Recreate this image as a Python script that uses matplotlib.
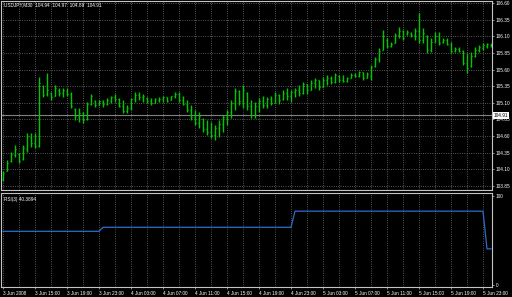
import matplotlib
matplotlib.use('Agg')
import matplotlib.pyplot as plt

# ---------------- data ----------------
bar_open = [103.95, 104.08, 104.22, 104.32, 104.33, 104.25, 104.40, 104.58, 104.50, 104.45,
            105.35, 105.23, 105.25, 105.20, 105.30, 105.25, 105.28, 105.24, 105.00, 104.88,
            104.95, 104.85, 105.08, 105.12, 105.07, 105.12, 105.08, 105.13, 105.18, 105.15,
            105.05, 104.98, 105.02, 105.15, 105.22, 105.18, 105.17, 105.12, 105.10, 105.14,
            105.15, 105.18, 105.14, 105.20, 105.23, 105.14, 105.08, 104.99, 104.88, 104.80,
            104.85, 104.70, 104.66, 104.62, 104.72, 104.78, 104.88, 104.96, 105.10, 105.28,
            105.12, 105.25, 105.05, 104.92, 105.05, 105.12, 105.06, 105.15, 105.10, 105.22,
            105.15, 105.25, 105.20, 105.26, 105.30, 105.25, 105.38, 105.30, 105.40, 105.44,
            105.34, 105.45, 105.48, 105.42, 105.50, 105.45, 105.43, 105.47, 105.52, 105.50,
            105.56, 105.47, 105.50, 105.65, 105.76, 105.90, 106.05, 105.96, 106.00, 106.12,
            106.18, 106.14, 106.14, 106.12, 106.18, 106.05, 106.10, 105.90, 106.02, 106.10,
            106.02, 106.05, 105.99, 105.88, 105.91, 105.88, 105.70, 105.65, 105.80, 105.90,
            105.92, 105.96, 105.97]
bar_high = [104.08, 104.24, 104.36, 104.46, 104.34, 104.46, 104.64, 104.64, 104.64, 105.49,
            105.37, 105.55, 105.26, 105.37, 105.32, 105.32, 105.32, 105.26, 105.02, 105.02,
            104.96, 105.11, 105.24, 105.14, 105.14, 105.14, 105.17, 105.21, 105.24, 105.17,
            105.14, 105.06, 105.17, 105.26, 105.26, 105.24, 105.18, 105.17, 105.17, 105.18,
            105.21, 105.18, 105.21, 105.26, 105.26, 105.21, 105.14, 105.06, 104.99, 104.96,
            104.87, 104.84, 104.81, 104.76, 104.84, 104.91, 104.99, 105.14, 105.32, 105.29,
            105.37, 105.26, 105.14, 105.11, 105.17, 105.21, 105.18, 105.21, 105.26, 105.24,
            105.29, 105.32, 105.29, 105.33, 105.37, 105.41, 105.38, 105.44, 105.47, 105.44,
            105.49, 105.52, 105.50, 105.55, 105.52, 105.52, 105.49, 105.55, 105.55, 105.58,
            105.56, 105.56, 105.67, 105.79, 105.92, 106.19, 106.07, 106.01, 106.15, 106.24,
            106.19, 106.19, 106.16, 106.22, 106.45, 106.22, 106.12, 106.07, 106.16, 106.16,
            106.07, 106.07, 106.01, 105.94, 105.94, 105.89, 105.85, 105.86, 105.94, 105.97,
            106.00, 106.00, 106.00]
bar_low = [103.93, 104.07, 104.21, 104.28, 104.19, 104.24, 104.36, 104.43, 104.42, 104.43,
           105.18, 105.21, 105.14, 105.21, 105.21, 105.18, 105.21, 105.02, 104.84, 104.81,
           104.79, 104.84, 105.06, 105.03, 105.06, 105.03, 105.06, 105.09, 105.11, 105.03,
           104.94, 104.94, 104.99, 105.11, 105.14, 105.11, 105.09, 105.06, 105.09, 105.11,
           105.11, 105.11, 105.14, 105.17, 105.11, 105.06, 104.96, 104.84, 104.76, 104.72,
           104.66, 104.61, 104.57, 104.54, 104.58, 104.66, 104.76, 104.87, 104.99, 105.06,
           105.02, 104.99, 104.87, 104.87, 104.96, 105.02, 105.02, 105.06, 105.09, 105.08,
           105.14, 105.14, 105.11, 105.18, 105.21, 105.23, 105.24, 105.29, 105.32, 105.29,
           105.34, 105.37, 105.38, 105.40, 105.41, 105.41, 105.41, 105.47, 105.49, 105.49,
           105.44, 105.47, 105.44, 105.64, 105.71, 105.89, 105.92, 105.94, 106.00, 106.07,
           106.04, 106.12, 106.09, 106.04, 106.00, 106.00, 105.85, 105.86, 106.01, 105.97,
           106.00, 105.97, 105.85, 105.86, 105.86, 105.67, 105.55, 105.64, 105.79, 105.86,
           105.89, 105.92, 105.94]
bar_close = [104.05, 104.20, 104.33, 104.40, 104.22, 104.42, 104.60, 104.50, 104.45, 105.40,
             105.22, 105.30, 105.18, 105.33, 105.25, 105.30, 105.24, 105.05, 104.90, 104.95,
             104.84, 105.08, 105.20, 105.06, 105.12, 105.08, 105.14, 105.18, 105.15, 105.05,
             104.98, 105.02, 105.15, 105.22, 105.18, 105.20, 105.12, 105.10, 105.15, 105.16,
             105.19, 105.13, 105.20, 105.23, 105.14, 105.08, 104.99, 104.88, 104.80, 104.90,
             104.70, 104.66, 104.62, 104.72, 104.78, 104.88, 104.96, 105.10, 105.28, 105.12,
             105.30, 105.05, 104.92, 105.05, 105.12, 105.06, 105.15, 105.10, 105.22, 105.14,
             105.25, 105.20, 105.26, 105.30, 105.25, 105.38, 105.30, 105.40, 105.44, 105.34,
             105.45, 105.48, 105.42, 105.52, 105.45, 105.43, 105.47, 105.52, 105.50, 105.56,
             105.47, 105.53, 105.64, 105.76, 105.88, 106.10, 105.96, 105.99, 106.12, 106.18,
             106.08, 106.17, 106.12, 106.18, 106.05, 106.15, 105.90, 106.02, 106.10, 106.00,
             106.05, 105.99, 105.88, 105.91, 105.88, 105.70, 105.62, 105.80, 105.90, 105.94,
             105.97, 105.98, 105.99]

rsi_levels = [60.0, 64.5, 82.5, 40.3894]
rsi_run_lengths = [25, 48, 48, 2]

price_ticks = [103.85, 104.10, 104.35, 104.60, 104.85, 105.10, 105.35,
               105.60, 105.85, 106.10, 106.35, 106.60]
time_labels = ["3 Jun 2008", "3 Jun 15:00", "3 Jun 19:00", "3 Jun 23:00",
               "4 Jun 03:00", "4 Jun 07:00", "4 Jun 11:00", "4 Jun 15:00",
               "4 Jun 19:00", "4 Jun 23:00", "5 Jun 03:00", "5 Jun 07:00",
               "5 Jun 11:00", "5 Jun 15:00", "5 Jun 19:00", "5 Jun 23:00"]
bars_per_label = 8
bars_per_grid = 4
current_price = 104.91
header = "USDJPY,M30  104.94  104.97  104.89  104.91"
rsi_title = "RSI(3) 40.3894"

# ---------------- layout ----------------
W, H = 512, 297
fig = plt.figure(figsize=(W / 100, H / 100), dpi=100, facecolor='black')

def rect(x0, y0, x1, y1):
    return [x0 / W, 1 - y1 / H, (x1 - x0) / W, (y1 - y0) / H]

ax = fig.add_axes(rect(1, 1, 492, 190))
ax2 = fig.add_axes(rect(1, 193, 492, 287), sharex=ax)

FONT = 'Liberation Sans'
FS = 3.4
SPINE = '#c4c4c4'
GRID = '#8a8a8a'
GREEN = '#00c800'

n = len(bar_open)
xs = list(range(n))

for a in (ax, ax2):
    a.set_facecolor('black')
    for s in a.spines.values():
        s.set_color(SPINE)
        s.set_linewidth(0.8)
    a.tick_params(colors=SPINE, length=1.5, width=0.5, pad=1.2,
                  labelsize=FS, labelcolor='white')

ax.set_xlim(-0.5, n - 0.75)

# grid
grid_pos = list(range(0, n, bars_per_grid))
for g in grid_pos:
    ax.axvline(g, color=GRID, lw=0.55, ls=(0, (1, 2)), zorder=0)
    ax2.axvline(g, color=GRID, lw=0.55, ls=(0, (1, 2)), zorder=0)
for p in price_ticks:
    ax.axhline(p, color=GRID, lw=0.55, ls=(0, (1, 2)), zorder=0)

# current price line
ax.axhline(current_price, color='#808080', lw=0.8, zorder=1)

# OHLC bars
ax.vlines(xs, bar_low, bar_high, color=GREEN, lw=1.0, zorder=3)
ax.hlines(bar_open, [x - 0.35 for x in xs], xs, color=GREEN, lw=0.9, zorder=3)
ax.hlines(bar_close, xs, [x + 0.35 for x in xs], color=GREEN, lw=0.9, zorder=3)

ax.set_ylim(103.790, 106.630)
ax.yaxis.tick_right()
ax.set_yticks(price_ticks)
ax.set_yticklabels([f"{p:.2f}" for p in price_ticks], fontfamily=FONT)
ax.tick_params(axis='x', bottom=False, labelbottom=False)

ax.text(1.004, current_price, f"{current_price:.2f}", transform=ax.get_yaxis_transform(),
        ha='left', va='center', fontsize=FS, color='black', fontfamily=FONT,
        bbox=dict(boxstyle='square,pad=0.15', fc='white', ec='white', lw=0),
        clip_on=False, zorder=10)

ax.text(3 / 491, 1 - 4 / 189, header, transform=ax.transAxes, ha='left', va='center',
        fontsize=FS, color='white', fontfamily=FONT)

# RSI pane
rsi_values = []
for lvl, cnt in zip(rsi_levels, rsi_run_lengths):
    rsi_values += [lvl] * cnt
ax2.plot(xs[:len(rsi_values)], rsi_values, color='#2a6ecf', lw=0.9, zorder=3)
ax2.set_ylim(-2.2, 102.8)
ax2.yaxis.tick_right()
ax2.set_yticks([0, 100])
ax2.set_yticklabels(["0", "100"], fontfamily=FONT)
ax2.text(3 / 491, 1 - 6 / 94, rsi_title, transform=ax2.transAxes, ha='left', va='center',
         fontsize=FS, color='white', fontfamily=FONT)

label_pos = [i * bars_per_label for i in range(len(time_labels))]
ax2.set_xticks(label_pos)
ax2.set_xticklabels(time_labels, ha='left', fontfamily=FONT)
ax2.tick_params(axis='x', pad=1.5)

fig.savefig('out.png', dpi=100, facecolor='black')
